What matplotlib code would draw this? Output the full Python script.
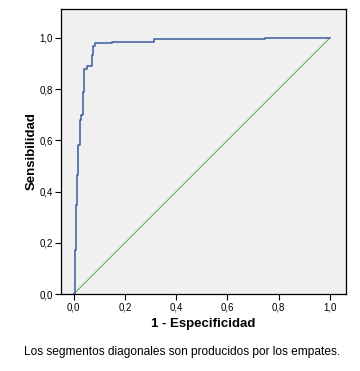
import matplotlib
matplotlib.use("Agg")
import matplotlib.pyplot as plt

plt.rcParams['font.family'] = ['Liberation Sans', 'DejaVu Sans']

# ROC curve vertices (1 - especificidad, sensibilidad)
fpr = [0.0, 0.003, 0.003, 0.008, 0.008, 0.012, 0.012, 0.017, 0.017, 0.025, 0.025,
       0.029, 0.029, 0.036, 0.036, 0.040, 0.040, 0.053, 0.053, 0.070, 0.070,
       0.075, 0.075, 0.083, 0.083, 0.150, 0.150, 0.315, 0.315, 0.746, 0.746, 1.0]
tpr = [0.0, 0.0, 0.172, 0.172, 0.348, 0.348, 0.465, 0.465, 0.582, 0.582, 0.680,
       0.680, 0.700, 0.700, 0.790, 0.790, 0.879, 0.879, 0.891, 0.891, 0.934,
       0.934, 0.969, 0.969, 0.979, 0.979, 0.986, 0.986, 0.995, 0.995, 1.0, 1.0]
ref = [0.0, 1.0]
ticks = [0.0, 0.2, 0.4, 0.6, 0.8, 1.0]
tick_labels = ["0,0", "0,2", "0,4", "0,6", "0,8", "1,0"]

fig = plt.figure(figsize=(3.6, 3.71), dpi=100)
ax = fig.add_axes([61/360, 1 - 294/371, 285/360, 285/371])
ax.set_facecolor("#f0f0f0")

ax.plot(ref, ref, color="#45b048", lw=0.7)
ax.plot(fpr, tpr, color="#3d5a9e", lw=1.1)

ax.set_xlim(-0.05, 1.063)
ax.set_ylim(0, 1.113)
ax.set_xticks(ticks)
ax.set_xticklabels(tick_labels)
ax.set_yticks(ticks)
ax.set_yticklabels(tick_labels)
ax.tick_params(labelsize=7, length=4.3, width=0.8, pad=1.5)
for s in ax.spines.values():
    s.set_linewidth(0.9)

ax.set_xlabel("1 - Especificidad", fontsize=9.5, fontweight="bold")
ax.xaxis.set_label_coords(0.5, -0.084)
ax.set_ylabel("Sensibilidad", fontsize=9.5, fontweight="bold", labelpad=1)

fig.text(182/360, 1 - 352/371, "Los segmentos diagonales son producidos por los empates.",
         ha="center", va="center", fontsize=8.6)

fig.savefig("out.png", dpi=100)
